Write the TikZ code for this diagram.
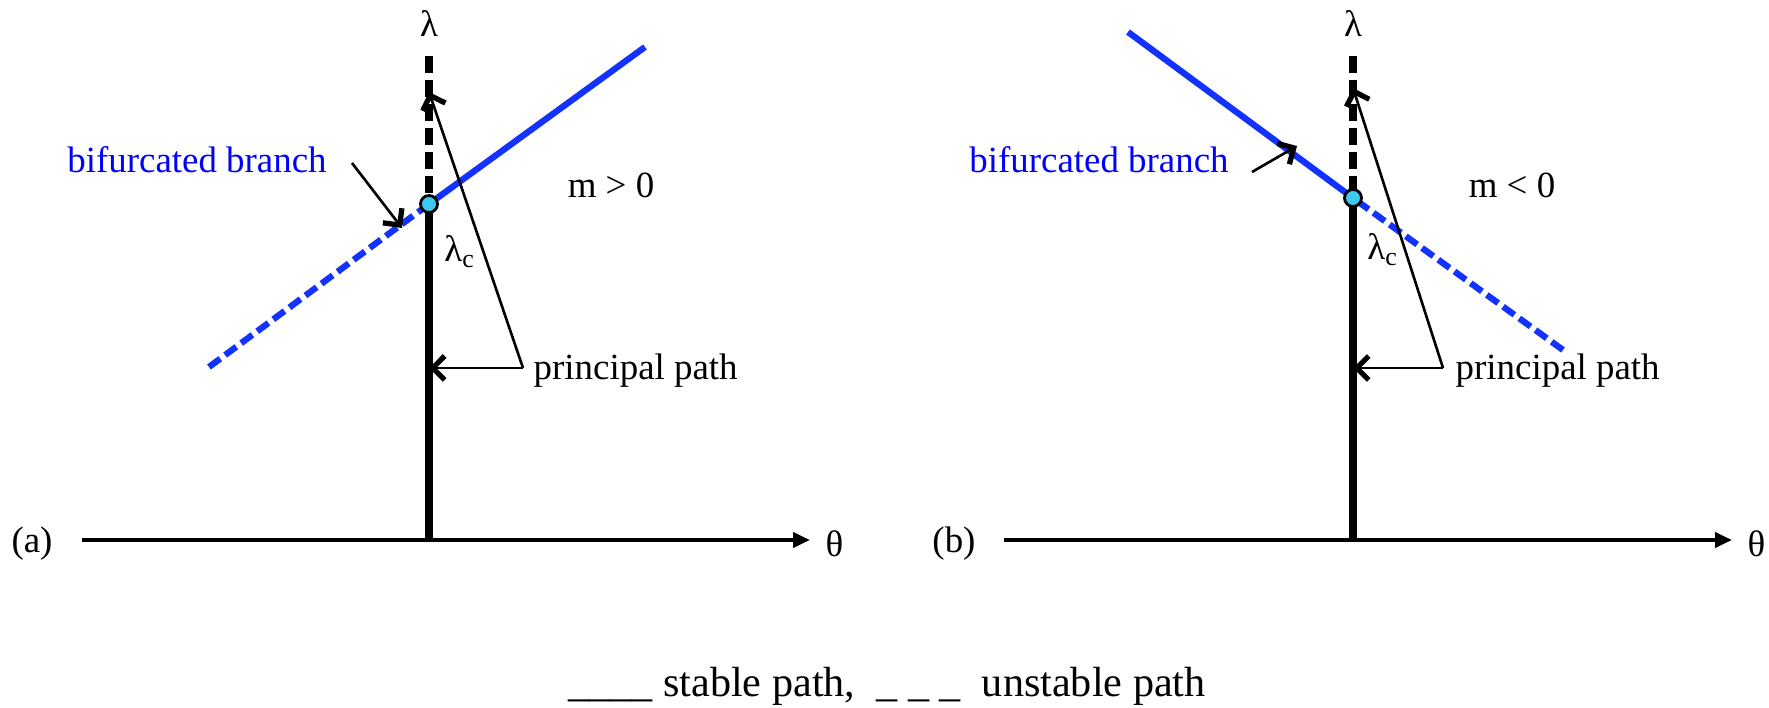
\documentclass[tikz,border=0pt]{standalone}
\usepackage{fontspec}
\setmainfont{Liberation Serif}
\usepackage{xcolor}
\usetikzlibrary{arrows.meta}
\definecolor{bfblue}{RGB}{20,50,255}
\definecolor{bfcyan}{RGB}{60,200,240}
\tikzset{
  bfaxis/.style={line width=1.4pt, draw=black, -{Triangle[length=0.17cm, width=0.15cm]}},
  bfstable/.style={line width=2.1pt, draw=black, line cap=butt},
  bfunstable/.style={line width=2.1pt, draw=black, line cap=butt, dash pattern=on 0.17cm off 0.07cm},
  bfbranch/.style={line width=1.8pt, draw=bfblue, line cap=butt},
  bfbranchdash/.style={line width=1.8pt, draw=bfblue, line cap=butt, dash pattern=on 0.14cm off 0.06cm},
  bfpointer/.style={line width=0.75pt, draw=black, -{Straight Barb[length=0.12cm, width=0.24cm, line width=1.5pt]}},
  bfpoint/.style={circle, fill=bfcyan, draw=black, line width=0.8pt, inner sep=0pt, minimum size=0.17cm},
  bflabel/.style={font=\fontsize{10.5}{12}\selectfont, inner sep=0pt},
  bfnote/.style={bflabel, text=blue},
}

\begin{document}
\begin{tikzpicture}
\useasboundingbox (0,0) rectangle (17.69,7.07);
% (a) m > 0
\coordinate (a0) at (0.82,1.67);
\coordinate (a1) at (8.10,1.67);
\coordinate (ab) at (4.29,1.67);
\coordinate (ac) at (4.29,5.03);
\coordinate (at) at (4.29,6.51);
\coordinate (abr0) at (2.09,3.40);
\coordinate (abr1) at (6.45,6.60);
\coordinate (apc) at (5.23,3.39);
\coordinate (apa) at (4.29,3.39);
\coordinate (alt) at (4.29,6.15);
\coordinate (abs) at (3.52,5.44);
\coordinate (abe) at (4.02,4.79);
\node[bflabel] (alab) at (0.32,1.63) {(a)};
\node[bflabel, anchor=west] (ath) at (8.25,1.63) {θ};
\node[bflabel] (alam) at (4.29,6.83) {λ};
\node[bflabel] (alc) at (4.60,4.55) {λ\textsubscript{c}};
\node[bflabel] (am) at (6.11,5.22) {m > 0};
\node[bflabel, anchor=west] (apn) at (5.33,3.36) {principal path};
\node[bfnote] (abn) at (1.97,5.47) {bifurcated branch};
\draw[bfaxis] (a0) -- (a1);
\draw[bfstable] (ab) -- (ac);
\draw[bfunstable] (at) -- (ac);
\draw[bfbranchdash] (abr0) -- (ac);
\draw[bfbranch] (ac) -- (abr1);
\draw[bfpointer] (apc) -- (alt);
\draw[bfpointer] (apc) -- (apa);
\draw[bfpointer] (abs) -- (abe);
\node[bfpoint] (acp) at (ac) {};
% (b) m < 0
\coordinate (b0) at (10.04,1.67);
\coordinate (b1) at (17.32,1.67);
\coordinate (bb) at (13.53,1.67);
\coordinate (bc) at (13.53,5.09);
\coordinate (bt) at (13.53,6.51);
\coordinate (bbr0) at (11.28,6.75);
\coordinate (bbr1) at (15.63,3.57);
\coordinate (bpc) at (14.43,3.39);
\coordinate (bpa) at (13.53,3.39);
\coordinate (blt) at (13.53,6.19);
\coordinate (bbs) at (12.52,5.35);
\coordinate (bbe) at (12.97,5.61);
\node[bflabel] (blab) at (9.54,1.63) {(b)};
\node[bflabel, anchor=west] (bth) at (17.47,1.63) {θ};
\node[bflabel] (blam) at (13.53,6.83) {λ};
\node[bflabel] (blc) at (13.83,4.57) {λ\textsubscript{c}};
\node[bflabel] (bm) at (15.12,5.22) {m < 0};
\node[bflabel, anchor=west] (bpn) at (14.55,3.36) {principal path};
\node[bfnote] (bbn) at (10.99,5.47) {bifurcated branch};
\draw[bfaxis] (b0) -- (b1);
\draw[bfstable] (bb) -- (bc);
\draw[bfunstable] (bt) -- (bc);
\draw[bfbranch] (bbr0) -- (bc);
\draw[bfbranchdash] (bbr1) -- (bc);
\draw[bfpointer] (bpc) -- (blt);
\draw[bfpointer] (bpc) -- (bpa);
\draw[bfpointer] (bbs) -- (bbe);
\node[bfpoint] (bcp) at (bc) {};
% key
\node[bflabel, font=\fontsize{12}{14}\selectfont] (key) at (8.87,0.21) {\_\_\_\_ stable path,\ \ \_ \_ \_\ \ unstable path};
\end{tikzpicture}
\end{document}
